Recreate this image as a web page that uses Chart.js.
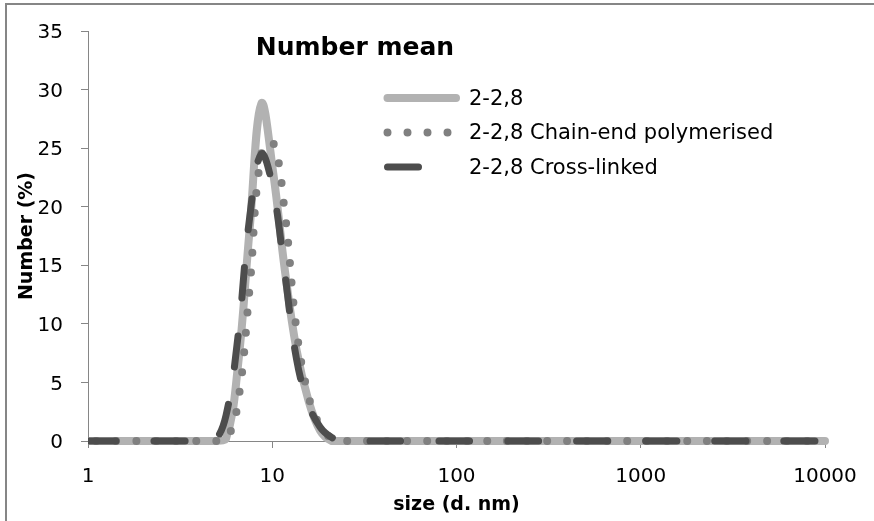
<!DOCTYPE html>
<html>
<head>
<meta charset="utf-8">
<title>Number mean</title>
<script src="https://cdn.jsdelivr.net/npm/chart.js@4.4.1/dist/chart.umd.min.js"></script>
<style>
  html, body { margin: 0; padding: 0; background: #fff; overflow: hidden; }
  #wrap { position: relative; width: 874px; height: 521px; }
  #frame { position: absolute; left: 5px; top: 3px; width: 900px; height: 600px; border: 2px solid #868686; box-sizing: border-box; }
  #dlsChart { position: absolute; left: 0; top: 0; }
</style>
</head>
<body>
<div id="wrap">
  <div id="frame"></div>
  <canvas id="dlsChart" width="874" height="521"></canvas>
</div>
<script>
// size classes (d. nm)
const sizes = [0.9649, 1.117, 1.294, 1.499, 1.736, 2.01, 2.328, 2.696, 3.122, 3.615, 4.187, 4.849,
  5.615, 6.503, 7.531, 8.721, 10.1, 11.7, 13.54, 15.69, 18.17, 21.04, 24.36, 28.21, 32.67, 37.84,
  43.82, 50.75, 58.77, 68.06, 78.82, 91.28, 105.7, 122.4, 141.8, 164.2, 190.1, 220.2, 255.0, 295.3,
  342.0, 396.1, 458.7, 531.2, 615.1, 712.4, 825.0, 955.4, 1106, 1281, 1484, 1718, 1990, 2305, 2669,
  3091, 3580, 4145, 4801, 5560, 6439, 7456, 8635, 10000];

// Number (%)
const plain = [0, 0, 0, 0, 0, 0, 0, 0, 0, 0, 0, 0,
  0.2, 6.3, 18.0, 28.8, 23.0, 14.6, 7.8, 3.5, 0.9, 0, 0, 0, 0, 0,
  0, 0, 0, 0, 0, 0, 0, 0, 0, 0, 0, 0, 0, 0,
  0, 0, 0, 0, 0, 0, 0, 0, 0, 0, 0, 0, 0, 0, 0,
  0, 0, 0, 0, 0, 0, 0, 0, 0];
const chainEnd = [0, 0, 0, 0, 0, 0, 0, 0, 0, 0, 0, 0,
  0.1, 3.2, 13.0, 24.5, 25.5, 19.5, 9.5, 3.9, 1.3, 0.2, 0, 0, 0, 0,
  0, 0, 0, 0, 0, 0, 0, 0, 0, 0, 0, 0, 0, 0,
  0, 0, 0, 0, 0, 0, 0, 0, 0, 0, 0, 0, 0, 0, 0,
  0, 0, 0, 0, 0, 0, 0, 0, 0];
const crossLinked = [0, 0, 0, 0, 0, 0, 0, 0, 0, 0, 0, 0,
  2.2, 8.8, 19.0, 24.5, 21.5, 14.3, 7.0, 3.2, 1.2, 0.3, 0, 0, 0, 0,
  0, 0, 0, 0, 0, 0, 0, 0, 0, 0, 0, 0, 0, 0,
  0, 0, 0, 0, 0, 0, 0, 0, 0, 0, 0, 0, 0, 0, 0,
  0, 0, 0, 0, 0, 0, 0, 0, 0];

const seriesNames = ['2-2,8', '2-2,8 Chain-end polymerised', '2-2,8 Cross-linked'];
const xTicks = [1, 10, 100, 1000, 10000];
const yTicks = [0, 5, 10, 15, 20, 25, 30, 35];
const chartTitle = 'Number mean';

const FONT = '"DejaVu Sans", sans-serif';
const axisGrey = '#868686';

const toPoints = vals => sizes.map((s, i) => ({ x: s, y: vals[i] }));

// title and legend sit inside the plot area, like the original
const insideText = {
    id: 'insideText',
    afterDatasetsDraw(chart) {
        const ctx = chart.ctx;
        ctx.save();
        ctx.fillStyle = '#000';
        ctx.textBaseline = 'middle';
        ctx.textAlign = 'center';
        ctx.font = 'bold 25px ' + FONT;
        ctx.fillText(chartTitle, 355, 48);

        chart.data.datasets.forEach((ds, i) => {
            const y = 98 + i * 34.5;
            ctx.beginPath();
            ctx.lineWidth = ds.borderWidth;
            ctx.strokeStyle = ds.borderColor;
            ctx.lineCap = 'round';
            ctx.setLineDash(ds.borderDash || []);
            ctx.moveTo(387.5, y);
            ctx.lineTo(456, y);
            ctx.stroke();
            ctx.setLineDash([]);
            ctx.textAlign = 'left';
            ctx.font = '21px ' + FONT;
            ctx.fillText(ds.label, 469, y + 1.5);
        });
        ctx.restore();
    }
};

Chart.defaults.font.family = FONT;
Chart.defaults.color = '#000';

const ctx = document.getElementById('dlsChart').getContext('2d');
const dlsChart = new Chart(ctx, {
    type: 'line',
    data: {
        datasets: [{
                label: seriesNames[0],
                data: toPoints(plain),
                borderColor: '#b2b2b2',
                borderWidth: 8,
                borderCapStyle: 'round',
                order: 3
            },
            {
                label: seriesNames[1],
                data: toPoints(chainEnd),
                borderColor: '#808080',
                borderWidth: 8,
                borderCapStyle: 'round',
                borderDash: [0, 20],
                borderDashOffset: 8.9,
                order: 2
            },
            {
                label: seriesNames[2],
                data: toPoints(crossLinked),
                borderColor: '#4d4d4d',
                borderWidth: 7,
                borderCapStyle: 'round',
                borderDash: [31, 38],
                order: 1
            }
        ]
    },
    options: {
        responsive: false,
        animation: false,
        layout: { padding: { top: 31, right: 49, bottom: 0, left: 0 } },
        elements: {
            line: { tension: 0.4, fill: false },
            point: { radius: 0, hoverRadius: 0 }
        },
        datasets: {
            line: { clip: { left: 0, top: 10, right: 10, bottom: 10 } }
        },
        plugins: {
            legend: { display: false },
            title: { display: false },
            tooltip: { enabled: false }
        },
        scales: {
            x: {
                type: 'logarithmic',
                min: 1,
                max: 10000,
                afterBuildTicks: scale => { scale.ticks = xTicks.map(v => ({ value: v })); },
                afterFit: scale => { scale.height = 80; },
                grid: { drawOnChartArea: false, color: axisGrey, tickLength: 7 },
                border: { color: axisGrey },
                ticks: {
                    font: { size: 20 },
                    padding: 17,
                    autoSkip: false,
                    maxRotation: 0,
                    callback: v => String(v)
                },
                title: {
                    display: true,
                    text: 'size (d. nm)',
                    font: { size: 19, weight: 'bold' },
                    padding: { top: 0, bottom: 5 }
                }
            },
            y: {
                min: 0,
                max: 35,
                afterBuildTicks: scale => { scale.ticks = yTicks.map(v => ({ value: v })); },
                afterFit: scale => { scale.width = 88; },
                grid: { drawOnChartArea: false, color: axisGrey, tickLength: 7 },
                border: { color: axisGrey },
                ticks: { font: { size: 20 }, padding: 18, labelOffset: 2 },
                title: {
                    display: true,
                    text: 'Number (%)',
                    font: { size: 19, weight: 'bold' },
                    padding: { top: 16, bottom: 0 }
                }
            }
        }
    },
    plugins: [insideText]
});
</script>
</body>
</html>
